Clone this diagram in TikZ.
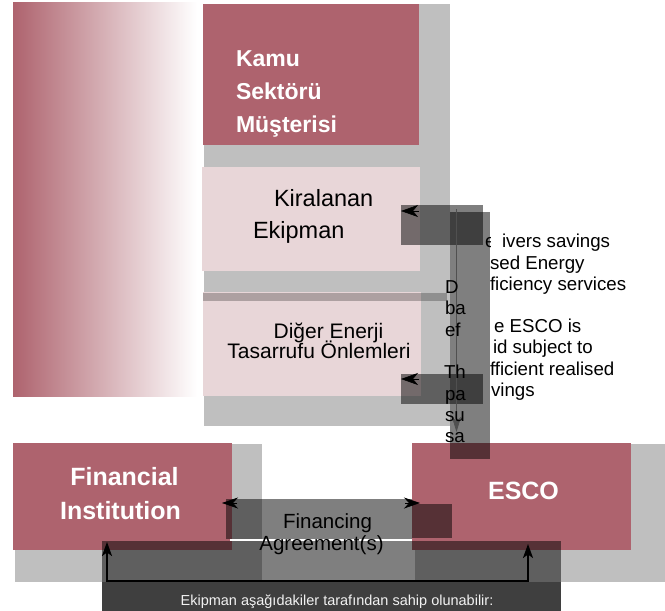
\documentclass[tikz,border=0pt]{standalone}
\usepackage{fontspec}
\setmainfont{Liberation Sans}
\usetikzlibrary{arrows.meta}
\definecolor{mauve}{RGB}{174,99,110}
\definecolor{pinkbox}{RGB}{232,214,216}
\definecolor{shadowgray}{RGB}{191,191,191}
\definecolor{hiddenline}{RGB}{80,80,80}
\definecolor{offwhite}{RGB}{242,242,242}
\begin{document}
\begin{tikzpicture}[x=1pt,y=-1pt,
  every node/.style={inner sep=0pt, outer sep=0pt},
  boxnode/.style={anchor=north west, draw=none},
  mauvebox/.style={boxnode, fill=mauve},
  pinkrect/.style={boxnode, fill=pinkbox},
  shadowfill/.style={fill=shadowgray},
  veil/.style={fill=black, fill opacity=0.5},
  thinveil/.style={fill=black, fill opacity=0.25},
  headtext/.style={text=white, font=\fontsize{23}{33}\selectfont\bfseries, anchor=base west},
  bigbold/.style={text=white, font=\fontsize{25}{34}\selectfont\bfseries, anchor=base},
  pinktext/.style={text=black, font=\fontsize{23.5}{32}\selectfont, anchor=base west},
  pinktextsmall/.style={text=black, font=\fontsize{21}{20}\selectfont, anchor=base},
  sidetext/.style={text=black, font=\fontsize{18.7}{21.3}\selectfont, anchor=base west},
  agreetext/.style={text=black, font=\fontsize{20.5}{22}\selectfont, anchor=base},
  ownertext/.style={text=offwhite, font=\fontsize{14.5}{16}\selectfont, anchor=base},
  leftarrow/.style={-{Stealth[length=17pt,width=12pt,inset=5pt]}, black, line width=0.6pt},
  downarrow/.style={-{Stealth[length=15pt,width=9pt,inset=4pt]}, hiddenline, line width=0.7pt},
  agreehead/.style={-{Stealth[length=16pt,width=11pt,inset=5pt]}, black, line width=0.6pt},
  ownarrows/.style={{Stealth[length=14pt,width=10pt,inset=3.5pt]}-{Stealth[length=14pt,width=10pt,inset=3.5pt]}, black, line width=2pt}
]
\useasboundingbox (0,0) rectangle (665,611);
\fill[white] (0,0) rectangle (665,611);

% left gradient panel
\shade[left color=mauve, right color=white] (13,2) rectangle (197,396);

% shadow behind the upper column
\fill[shadowfill] (204,4) rectangle (450,426);

% upper boxes
\node[mauvebox, minimum width=216pt, minimum height=141pt] (kamu) at (203,4) {};
\node[headtext] (kamuA) at (236,66) {Kamu};
\node[headtext] (kamuB) at (236,99) {Sektörü};
\node[headtext] (kamuC) at (236,132) {Müşterisi};

\node[pinkrect, minimum width=218pt, minimum height=104pt] (kiralanan) at (202,167) {};
\node[pinktext] (kirA) at (274,206) {Kiralanan};
\node[pinktext] (kirB) at (253,238) {Ekipman};

\node[pinkrect, minimum width=218pt, minimum height=104pt] (diger) at (203,292) {};
\node[pinktextsmall] (digA) at (328.5,338) {Diğer Enerji};
\node[pinktextsmall] (digB) at (319,358) {Tasarrufu Önlemleri};
\fill[thinveil] (203,293) rectangle (447,301);

% lower boxes with shadows
\fill[shadowfill] (15,444) rectangle (262,582);
\fill[shadowfill] (415,444) rectangle (665,582);
\node[mauvebox, minimum width=219pt, minimum height=107pt] (fin) at (13,443) {};
\node[bigbold] (finA) at (124.5,485) {Financial};
\node[bigbold] (finB) at (120.5,519) {Institution};
\node[mauvebox, minimum width=219pt, minimum height=107pt] (esco) at (412,443) {};
\node[bigbold] (escoT) at (523.5,499) {ESCO};

% translucent label areas
\fill[veil] (450,212) rectangle (490,459);
\fill[veil] (401,205) rectangle (483,245);
\fill[veil] (401,374) rectangle (483,404);
\fill[veil] (226,499) rectangle (412,539);
\fill[veil] (412,504) rectangle (452,538);
\fill[veil] (102,541) rectangle (561,611);
\fill[veil] (102,582) rectangle (561,611);

\coordinate (wlA) at (230,540);
\coordinate (wlB) at (412,540);
\draw[white, line width=1.2pt] (wlA) -- (wlB);

% arrows into the upper boxes
\coordinate (kirTail) at (419,211);
\coordinate (kirTip) at (401,211);
\draw[leftarrow] (kirTail) -- (kirTip);
\coordinate (digTail) at (419,379);
\coordinate (digTip) at (401,379);
\draw[leftarrow] (digTail) -- (digTip);
\coordinate (vTop) at (456.5,209);
\coordinate (vTip) at (456.5,432);
\draw[downarrow] (vTop) -- (vTip);

% side text fragments
\node[sidetext] (lD) at (445,293) {D};
\node[sidetext] (lba) at (445,314) {ba};
\node[sidetext] (lef) at (445,336) {ef};
\node[sidetext] (lTh) at (444,378) {Th};
\node[sidetext] (lpa) at (445,400) {pa};
\node[sidetext] (lsu) at (445,421) {su};
\node[sidetext] (lsa) at (445,442) {sa};
\begin{scope}
  \clip (484,225) rectangle (490.5,252);
  \node[sidetext] (re) at (485,247) {e};
\end{scope}
\node[sidetext] (r1) at (502,247) {ivers savings};
\node[sidetext] (r2) at (490,269) {sed Energy};
\node[sidetext] (r3) at (490,290) {ficiency services};
\node[sidetext] (r4) at (494,332) {e ESCO is};
\node[sidetext] (r5) at (493,353) {id subject to};
\node[sidetext] (r6) at (490,375) {fficient realised};
\node[sidetext] (r7) at (491,396) {vings};

% financing agreement (arrowheads only are visible)
\coordinate (faLeft) at (222,503);
\coordinate (faLeftTail) at (237,503);
\coordinate (faRight) at (420,503);
\coordinate (faRightTail) at (405,503);
\draw[agreehead] (faLeftTail) -- (faLeft);
\draw[agreehead] (faRightTail) -- (faRight);
\node[agreetext] (faA) at (327.5,528) {Financing};
\node[agreetext] (faB) at (321.5,550) {Agreement(s)};

% ownership arrows
\coordinate (ownL) at (107,542);
\coordinate (ownLc) at (107,581);
\coordinate (ownRc) at (528,581);
\coordinate (ownR) at (528,544);
\draw[ownarrows] (ownL) -- (ownLc) -- (ownRc) -- (ownR);
\node[ownertext] (owner) at (337,605) {Ekipman aşağıdakiler tarafından sahip olunabilir:};
\end{tikzpicture}
\end{document}
